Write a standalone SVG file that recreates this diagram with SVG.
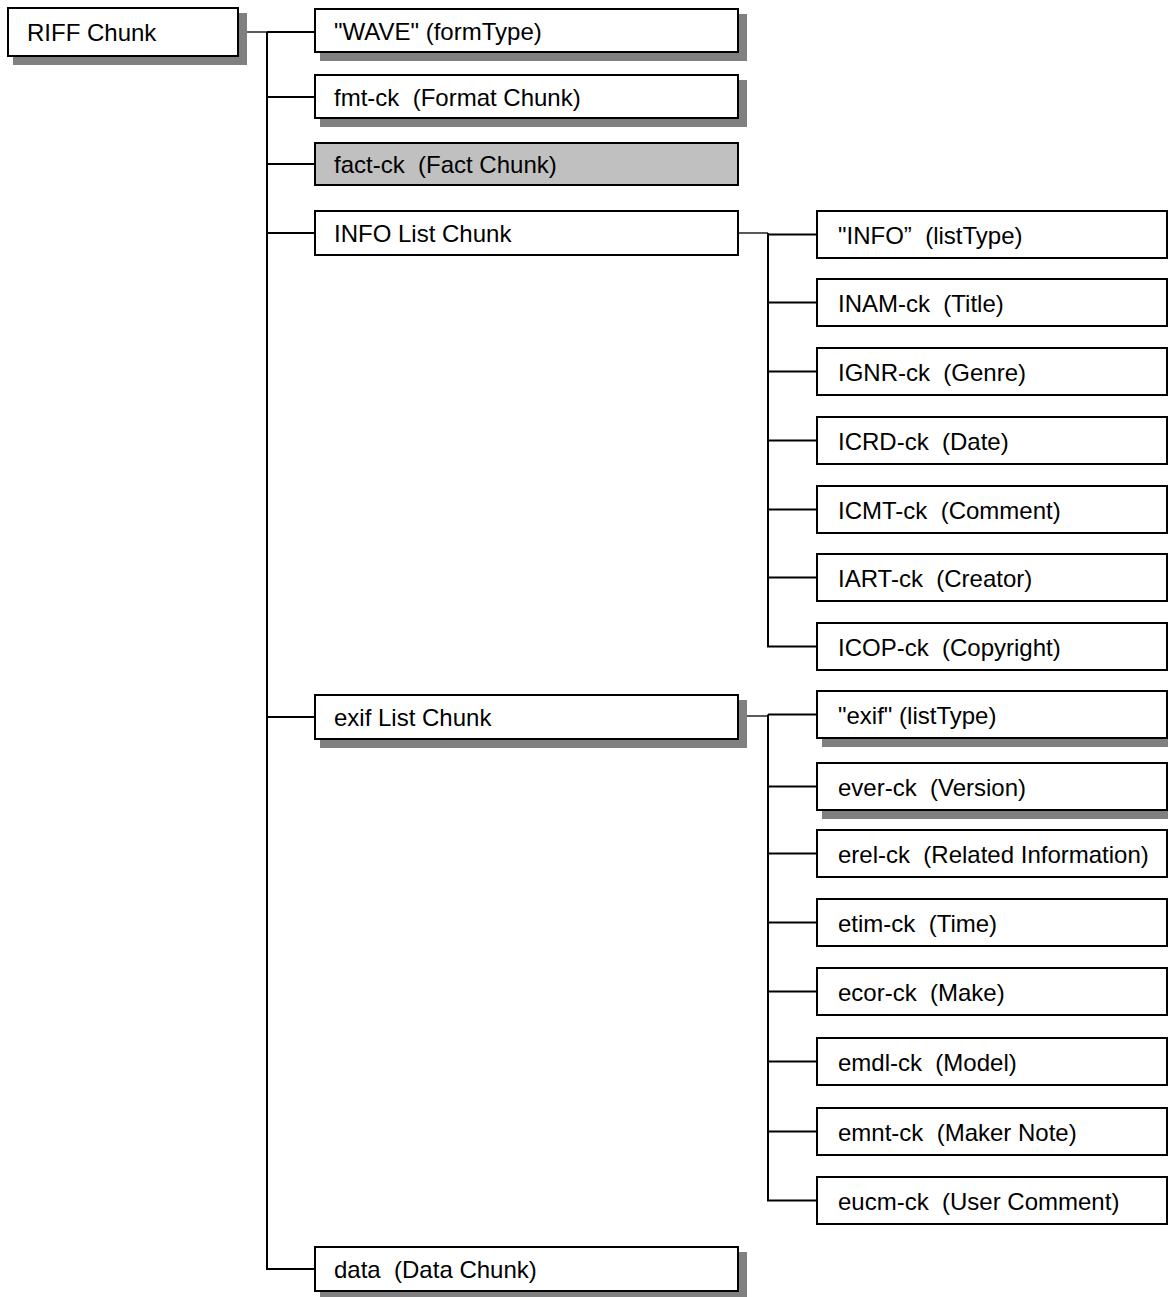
<svg xmlns="http://www.w3.org/2000/svg" width="1168" height="1297" viewBox="0 0 1168 1297">
<style>
.box{fill:#fff;stroke:#000;stroke-width:2}
.gray{fill:#c0c0c0;stroke:#000;stroke-width:2}
.sh{fill:#808080;stroke:none}
.lbl{font-family:"Liberation Sans",Arial,sans-serif;font-size:24px;fill:#000;white-space:pre}
.ln{stroke:#000;stroke-width:2;fill:none}
.thin{stroke:#000;stroke-width:1.3;fill:none}
</style>
<rect width="1168" height="1297" fill="#fff"/>
<g id="connectors">
  <line class="thin" x1="239" y1="32" x2="267" y2="32"/>
  <path class="ln" d="M267,32 V1269 H315"/>
  <line class="ln" x1="267" y1="32" x2="315" y2="32"/>
  <line class="ln" x1="267" y1="97" x2="315" y2="97"/>
  <line class="ln" x1="267" y1="164" x2="315" y2="164"/>
  <line class="ln" x1="267" y1="233" x2="315" y2="233"/>
  <line class="ln" x1="267" y1="717" x2="315" y2="717"/>
  <line class="thin" x1="739" y1="233" x2="768" y2="233"/>
  <path class="ln" d="M768,233 V646.5 H817"/>
  <line class="ln" x1="768" y1="234.5" x2="817" y2="234.5"/>
  <line class="ln" x1="768" y1="302.5" x2="817" y2="302.5"/>
  <line class="ln" x1="768" y1="371.5" x2="817" y2="371.5"/>
  <line class="ln" x1="768" y1="440.5" x2="817" y2="440.5"/>
  <line class="ln" x1="768" y1="509.5" x2="817" y2="509.5"/>
  <line class="ln" x1="768" y1="577.5" x2="817" y2="577.5"/>
  <line class="thin" x1="739" y1="716" x2="768" y2="716"/>
  <path class="ln" d="M768,714.5 V1200.5 H817"/>
  <line class="ln" x1="768" y1="714.5" x2="817" y2="714.5"/>
  <line class="ln" x1="768" y1="786.5" x2="817" y2="786.5"/>
  <line class="ln" x1="768" y1="853.5" x2="817" y2="853.5"/>
  <line class="ln" x1="768" y1="922.5" x2="817" y2="922.5"/>
  <line class="ln" x1="768" y1="991.5" x2="817" y2="991.5"/>
  <line class="ln" x1="768" y1="1061.5" x2="817" y2="1061.5"/>
  <line class="ln" x1="768" y1="1131.5" x2="817" y2="1131.5"/>
</g>
<g id="riff"><rect class="sh" x="13" y="13" width="234" height="52"/><rect class="box" x="8" y="8" width="230" height="48"/><text class="lbl" x="27" y="41">RIFF Chunk</text></g>
<g id="wave"><rect class="sh" x="320" y="14" width="427" height="47"/><rect class="box" x="315" y="9" width="423" height="43"/><text class="lbl" x="334" y="40">"WAVE" (formType)</text></g>
<g id="fmt"><rect class="sh" x="320" y="80" width="427" height="47"/><rect class="box" x="315" y="75" width="423" height="43"/><text class="lbl" x="334" y="106">fmt-ck  (Format Chunk)</text></g>
<g id="fact"><rect class="gray" x="315" y="143" width="423" height="42"/><text class="lbl" x="334" y="173">fact-ck  (Fact Chunk)</text></g>
<g id="info-list"><rect class="box" x="315" y="211" width="423" height="44"/><text class="lbl" x="334" y="242">INFO List Chunk</text></g>
<g id="exif-list"><rect class="sh" x="320" y="700" width="427" height="48"/><rect class="box" x="315" y="695" width="423" height="44"/><text class="lbl" x="334" y="726">exif List Chunk</text></g>
<g id="data"><rect class="sh" x="320" y="1252" width="427" height="48"/><rect class="box" x="315" y="1247" width="423" height="44"/><text class="lbl" x="334" y="1278">data  (Data Chunk)</text></g>
<g id="info-type"><rect class="box" x="817" y="211" width="350" height="47"/><text class="lbl" x="838" y="243.5">"INFO”  (listType)</text></g>
<g id="inam"><rect class="box" x="817" y="279" width="350" height="47"/><text class="lbl" x="838" y="311.5">INAM-ck  (Title)</text></g>
<g id="ignr"><rect class="box" x="817" y="348" width="350" height="47"/><text class="lbl" x="838" y="380.5">IGNR-ck  (Genre)</text></g>
<g id="icrd"><rect class="box" x="817" y="417" width="350" height="47"/><text class="lbl" x="838" y="449.5">ICRD-ck  (Date)</text></g>
<g id="icmt"><rect class="box" x="817" y="486" width="350" height="47"/><text class="lbl" x="838" y="518.5">ICMT-ck  (Comment)</text></g>
<g id="iart"><rect class="box" x="817" y="554" width="350" height="47"/><text class="lbl" x="838" y="586.5">IART-ck  (Creator)</text></g>
<g id="icop"><rect class="box" x="817" y="623" width="350" height="47"/><text class="lbl" x="838" y="655.5">ICOP-ck  (Copyright)</text></g>
<g id="exif-type"><rect class="sh" x="822" y="696" width="350" height="51"/><rect class="box" x="817" y="691" width="350" height="47"/><text class="lbl" x="838" y="723.5">"exif" (listType)</text></g>
<g id="ever"><rect class="sh" x="822" y="768" width="350" height="51"/><rect class="box" x="817" y="763" width="350" height="47"/><text class="lbl" x="838" y="795.5">ever-ck  (Version)</text></g>
<g id="erel"><rect class="box" x="817" y="830" width="350" height="47"/><text class="lbl" x="838" y="862.5">erel-ck  (Related Information)</text></g>
<g id="etim"><rect class="box" x="817" y="899" width="350" height="47"/><text class="lbl" x="838" y="931.5">etim-ck  (Time)</text></g>
<g id="ecor"><rect class="box" x="817" y="968" width="350" height="47"/><text class="lbl" x="838" y="1000.5">ecor-ck  (Make)</text></g>
<g id="emdl"><rect class="box" x="817" y="1038" width="350" height="47"/><text class="lbl" x="838" y="1070.5">emdl-ck  (Model)</text></g>
<g id="emnt"><rect class="box" x="817" y="1108" width="350" height="47"/><text class="lbl" x="838" y="1140.5">emnt-ck  (Maker Note)</text></g>
<g id="eucm"><rect class="box" x="817" y="1177" width="350" height="47"/><text class="lbl" x="838" y="1209.5">eucm-ck  (User Comment)</text></g>
</svg>
